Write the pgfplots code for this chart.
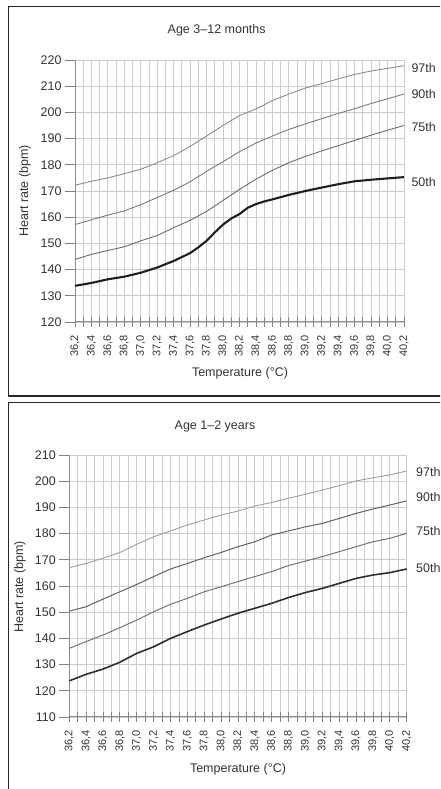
\documentclass[border=0pt]{standalone}
\usepackage{fontspec}
\setmainfont{Liberation Sans}
\usepackage{pgfplots}
\pgfplotsset{compat=1.18}
\definecolor{txt}{gray}{0.2}
\definecolor{gridc}{gray}{0.80}
\definecolor{axc}{gray}{0.55}
\tikzset{
  p97/.style={black!45, line width=0.9pt},
  p90/.style={black!52, line width=0.9pt},
  p75/.style={black!58, line width=0.9pt},
  p50/.style={black!88, line width=2.1pt},
  pl/.style={anchor=west, text=txt, font=\fontsize{12.5}{14}\selectfont},
}
\pgfplotsset{
  hrax/.style={
    scale only axis,
    axis x line*=bottom, axis y line*=left,
    xmin=36.2, xmax=40.2,
    xtick={36.2,36.4,36.6,36.8,37.0,37.2,37.4,37.6,37.8,38.0,38.2,38.4,38.6,38.8,39.0,39.2,39.4,39.6,39.8,40.0,40.2},
    minor xtick={36.3,36.5,36.7,36.9,37.1,37.3,37.5,37.7,37.9,38.1,38.3,38.5,38.7,38.9,39.1,39.3,39.5,39.7,39.9,40.1},
    ytick distance=10,
    grid=both,
    major grid style={gridc, line width=0.9pt},
    minor grid style={gridc, line width=0.9pt},
    axis line style={axc, line width=1pt},
    tick style={black!50, line width=0.9pt},
    xtick style={yshift=5pt},
    tick align=outside,
    major tick length=10pt, minor tick length=10pt,
    /pgf/number format/assume math mode=true,
    xticklabel style={rotate=90, anchor=east, text=txt, font=\fontsize{11}{12}\selectfont,
      /pgf/number format/.cd, fixed, fixed zerofill, precision=1, use comma, assume math mode=true},
    yticklabel style={text=txt, font=\fontsize{12.5}{14}\selectfont},
    clip=false,
  },
}
\begin{document}
\begin{tikzpicture}
\useasboundingbox (0pt,0pt) rectangle (440pt,789pt);
\clip (0pt,0pt) rectangle (440pt,789pt);
\draw[black!85, line width=1.3pt] (8.5pt,393pt) rectangle (480pt,782.5pt);
\draw[black!85, line width=1.3pt] (8.5pt,-20pt) rectangle (480pt,386.5pt);

% ---------------- Top panel: Age 3-12 months
\begin{axis}[hrax, at={(75pt,467pt)}, anchor=south west, width=329pt, height=262pt,
  ymin=120, ymax=220]
\addplot[p97] coordinates {(36.2,172.2)(36.4,173.7)(36.6,175.0)(36.8,176.6)(37.0,178.3)(37.2,180.8)(37.4,183.5)(37.6,187.0)(37.8,191.0)(38.0,195.0)(38.2,198.8)(38.4,201.3)(38.6,204.5)(38.8,207.0)(39.0,209.3)(39.2,211.0)(39.4,212.8)(39.6,214.5)(39.8,215.8)(40.0,216.8)(40.2,217.8)};
\addplot[p90] coordinates {(36.2,157.2)(36.4,159.0)(36.6,160.8)(36.8,162.4)(37.0,164.8)(37.2,167.5)(37.4,170.3)(37.6,173.5)(37.8,177.5)(38.0,181.2)(38.2,185.0)(38.4,188.3)(38.6,191.0)(38.8,193.5)(39.0,195.6)(39.2,197.6)(39.4,199.6)(39.6,201.4)(39.8,203.4)(40.0,205.2)(40.2,207.0)};
\addplot[p75] coordinates {(36.2,143.9)(36.4,145.8)(36.6,147.3)(36.8,148.7)(37.0,151.0)(37.2,153.0)(37.4,156.0)(37.6,158.8)(37.8,162.2)(38.0,166.4)(38.2,170.6)(38.4,174.5)(38.6,177.9)(38.8,180.8)(39.0,183.2)(39.2,185.3)(39.4,187.3)(39.6,189.3)(39.8,191.3)(40.0,193.2)(40.2,195.0)};
\addplot[p50] coordinates {(36.2,133.8)(36.4,134.9)(36.6,136.3)(36.8,137.3)(37.0,138.8)(37.2,140.8)(37.4,143.3)(37.6,146.3)(37.7,148.5)(37.8,151.0)(37.9,154.2)(38.0,157.2)(38.1,159.5)(38.2,161.2)(38.3,163.6)(38.4,165.0)(38.5,166.0)(38.6,166.8)(38.8,168.5)(39.0,170.0)(39.2,171.3)(39.4,172.6)(39.6,173.7)(39.8,174.3)(40.0,174.8)(40.2,175.3)};
\node[pl] at (axis cs:40.2,216.9) [xshift=4pt] {97th};
\node[pl] at (axis cs:40.2,206.9) [xshift=4pt] {90th};
\node[pl] at (axis cs:40.2,194.5) [xshift=4pt] {75th};
\node[pl] at (axis cs:40.2,173.6) [xshift=4pt] {50th};
\end{axis}

% ---------------- Bottom panel: Age 1-2 years
\begin{axis}[hrax, at={(69.3pt,72pt)}, anchor=south west, width=337.4pt, height=262pt,
  ymin=110, ymax=210]
\addplot[black!38, line width=0.9pt] coordinates {(36.2,167.0)(36.4,168.6)(36.6,170.6)(36.8,172.8)(37.0,175.9)(37.2,178.8)(37.4,181.0)(37.6,183.3)(37.8,185.2)(38.0,187.1)(38.2,188.6)(38.4,190.5)(38.6,191.9)(38.8,193.5)(39.0,195.0)(39.2,196.6)(39.4,198.3)(39.6,200.1)(39.8,201.3)(40.0,202.4)(40.2,203.9)};
\addplot[black!62, line width=1pt] coordinates {(36.2,150.4)(36.4,152.1)(36.6,155.0)(36.8,157.8)(37.0,160.6)(37.2,163.6)(37.4,166.5)(37.6,168.6)(37.8,170.8)(38.0,172.8)(38.2,175.0)(38.4,176.9)(38.6,179.5)(38.8,181.0)(39.0,182.6)(39.2,183.9)(39.4,185.8)(39.6,187.7)(39.8,189.4)(40.0,190.9)(40.2,192.5)};
\addplot[black!55, line width=1pt] coordinates {(36.2,136.2)(36.4,138.8)(36.6,141.3)(36.8,144.1)(37.0,147.0)(37.2,150.2)(37.4,153.0)(37.6,155.3)(37.8,157.8)(38.0,159.7)(38.2,161.7)(38.4,163.6)(38.6,165.5)(38.8,167.8)(39.0,169.5)(39.2,171.2)(39.4,173.1)(39.6,175.0)(39.8,176.9)(40.0,178.2)(40.2,180.1)};
\addplot[black!82, line width=1.6pt] coordinates {(36.2,123.8)(36.4,126.3)(36.6,128.3)(36.8,130.9)(37.0,134.3)(37.2,136.8)(37.4,140.0)(37.6,142.6)(37.8,145.1)(38.0,147.4)(38.2,149.6)(38.4,151.5)(38.6,153.4)(38.8,155.6)(39.0,157.5)(39.2,159.1)(39.4,161.0)(39.6,162.9)(39.8,164.2)(40.0,165.1)(40.2,166.5)};
\node[pl] at (axis cs:40.2,203.6) [xshift=6pt] {97th};
\node[pl] at (axis cs:40.2,194.1) [xshift=6pt] {90th};
\node[pl] at (axis cs:40.2,181.1) [xshift=6pt] {75th};
\node[pl] at (axis cs:40.2,167.0) [xshift=6pt] {50th};
\end{axis}

% titles and axis labels
\node[text=txt, font=\fontsize{12.5}{14}\selectfont] at (216.7pt,759pt) {Age 3–12 months};
\node[text=txt, font=\fontsize{12.5}{14}\selectfont] at (215pt,362.3pt) {Age 1–2 years};
\node[text=txt, font=\fontsize{12.5}{14}\selectfont, rotate=90] at (25pt,598pt) {Heart rate (bpm)};
\node[text=txt, font=\fontsize{12.5}{14}\selectfont, rotate=90] at (20pt,202pt) {Heart rate (bpm)};
\node[text=txt, font=\fontsize{12.5}{14}\selectfont] at (240pt,416pt) {Temperature (°C)};
\node[text=txt, font=\fontsize{12.5}{14}\selectfont] at (238pt,20pt) {Temperature (°C)};
\end{tikzpicture}
\end{document}
